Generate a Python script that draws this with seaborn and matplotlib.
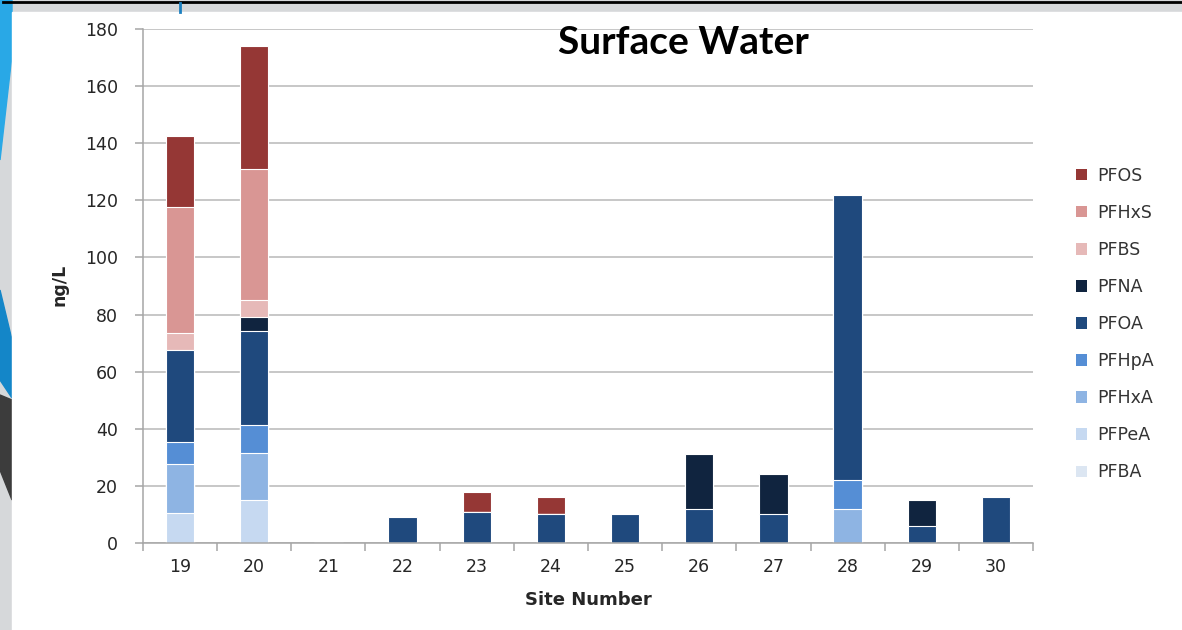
import numpy as np
import pandas as pd
import matplotlib.pyplot as plt
import seaborn as sns
from matplotlib.patches import Patch, Polygon, Rectangle

sites = ["19", "20", "21", "22", "23", "24", "25", "26", "27", "28", "29", "30"]

# ng/L per compound, listed from bottom of stack to top
pfba = [0, 0, 0, 0, 0, 0, 0, 0, 0, 0, 0, 0]
pfpea = [10.5, 15, 0, 0, 0, 0, 0, 0, 0, 0, 0, 0]
pfhxa = [17, 16.4, 0, 0, 0, 0, 0, 0, 0, 12, 0, 0]
pfhpa = [8, 10, 0, 0, 0, 0, 0, 0, 0, 10, 0, 0]
pfoa = [32, 32.7, 0, 9, 11, 10, 10, 12, 10, 100, 6, 16]
pfna = [0, 5.2, 0, 0, 0, 0, 0, 19, 14, 0, 9, 0]
pfbs = [6, 5.8, 0, 0, 0, 0, 0, 0, 0, 0, 0, 0]
pfhxs = [44, 46, 0, 0, 0, 0, 0, 0, 0, 0, 0, 0]
pfos = [25, 43, 0, 0, 7, 6, 0, 0, 0, 0, 0, 0]

compounds = ["PFBA", "PFPeA", "PFHxA", "PFHpA", "PFOA", "PFNA", "PFBS", "PFHxS", "PFOS"]
values = [pfba, pfpea, pfhxa, pfhpa, pfoa, pfna, pfbs, pfhxs, pfos]
colors = ["#DCE6F2", "#C6D9F1", "#8EB4E3", "#558ED5", "#1F497D",
          "#10243F", "#E6B9B8", "#D99694", "#953735"]

df = pd.DataFrame(dict(zip(compounds, values)))
cum = df[compounds].cumsum(axis=1)
cum["site"] = sites

W, H = 1182, 630
fig = plt.figure(figsize=(W / 100, H / 100), dpi=100)

# slide background behind the chart
bg = fig.add_axes([0, 0, 1, 1], zorder=-1)
bg.set_xlim(0, W)
bg.set_ylim(H, 0)
bg.axis("off")
bg.add_patch(Rectangle((0, 0), W, H, color="#d6d8da"))
bg.add_patch(Polygon([(0, 0), (12, 0), (12, 55), (0, 160)], color="#29a8e6"))
bg.add_patch(Polygon([(0, 290), (12, 340), (12, 398), (0, 380)], color="#1486c8"))
bg.add_patch(Polygon([(0, 395), (12, 400), (12, 500), (0, 470)], color="#3c3c3c"))
bg.add_patch(Rectangle((12, 12), W - 12, H - 12, color="white"))
bg.plot([3, W], [2, 2], color="black", lw=2)
bg.plot([180, 180], [3, 12], color="#1a7fc0", lw=2)

ax = fig.add_axes([143 / W, 1 - 543 / H, (1033 - 143) / W, (543 - 29) / H])
ax.set_facecolor("none")

for comp, col in zip(reversed(compounds), reversed(colors)):
    sns.barplot(data=cum, x="site", y=comp, order=sites, color=col,
                saturation=1, width=0.38, edgecolor="white", linewidth=0.8, ax=ax)

ax.set_ylim(0, 180)
ax.set_yticks(np.arange(0, 181, 20))
ax.set_xlim(-0.5, len(sites) - 0.5)
ax.set_xticks(np.arange(-0.5, len(sites), 1), minor=True)
ax.set_axisbelow(True)
ax.yaxis.grid(True, color="#b8b8b8", lw=1.1)
for s in ["top", "right"]:
    ax.spines[s].set_visible(False)
for s in ["left", "bottom"]:
    ax.spines[s].set_color("#a6a6a6")
    ax.spines[s].set_linewidth(1.1)
ax.tick_params(axis="x", which="major", length=0, pad=11, labelsize=12.5, labelcolor="#262626")
ax.tick_params(axis="x", which="minor", length=6, color="#a6a6a6", width=1.1)
ax.tick_params(axis="y", length=6, color="#a6a6a6", width=1.1, pad=12,
               labelsize=12.5, labelcolor="#262626")

ax.set_xlabel("")
ax.set_ylabel("")
fig.text(588 / W, 1 - 600 / H, "Site Number", ha="center", va="center",
         fontsize=13, fontweight="bold", color="#262626")
fig.text(60 / W, 1 - 285 / H, "ng/L", ha="center", va="center", rotation=90,
         fontsize=12.5, fontweight="bold", color="#262626")
fig.text(683 / W, 1 - 43 / H, "Surface Water", ha="center", va="center",
         fontsize=28, fontweight="bold", family="Lato", color="black")

handles = [Patch(facecolor=c, edgecolor="none") for c in reversed(colors)]
fig.legend(handles, list(reversed(compounds)), loc="upper left",
           bbox_to_anchor=(1060 / W, 1 - 151 / H), frameon=False,
           fontsize=12.5, handlelength=0.65, handleheight=0.65, handletextpad=0.6,
           labelspacing=1.1, labelcolor="#333333")

fig.savefig("out.png", dpi=100)
